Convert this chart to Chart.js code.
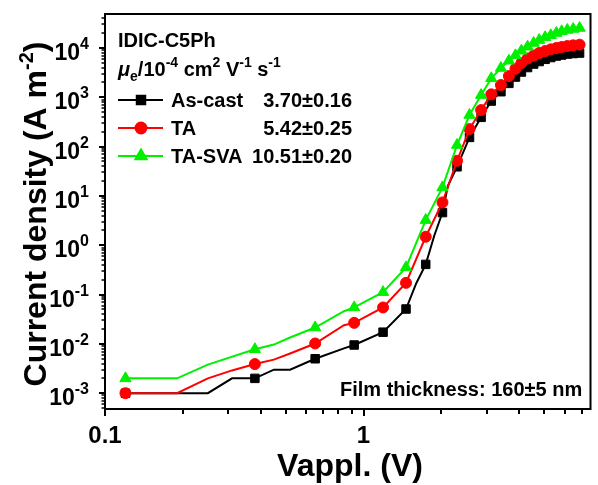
<!DOCTYPE html>
<html>
<head>
<meta charset="utf-8">
<script src="https://cdn.jsdelivr.net/npm/chart.js@4.4.0/dist/chart.umd.min.js"></script>
<style>
html, body { margin: 0; padding: 0; background: #fff; }
#wrap { width: 598px; height: 485px; }
</style>
</head>
<body>
<div id="wrap"><canvas id="jv" width="598" height="485"></canvas></div>
<script>
// voltages (V) where the markers sit, same for the three films
var markV = [0.12, 0.38, 0.65, 0.92, 1.19, 1.46, 1.74, 2.02, 2.30, 2.57, 2.85, 3.12, 3.40,
             3.65, 3.87, 4.08, 4.31, 4.55, 4.78, 5.04, 5.30, 5.57, 5.84, 6.14, 6.47, 6.85];
// current density (A m^-2) at the markers
var asCastJ = [0.001, 0.002, 0.005, 0.0095, 0.0173, 0.051, 0.41, 4.6, 39, 154, 393, 841, 1300,
               1920, 2580, 3260, 4020, 4730, 5320, 5900, 6410, 6880, 7210, 7560, 7730, 7900];
var taJ = [0.001, 0.0039, 0.0102, 0.0267, 0.0548, 0.173, 1.49, 7.4, 51.7, 227, 552, 1150, 1776,
           2700, 3800, 4960, 6120, 7050, 7930, 8690, 9420, 10000, 10480, 10970, 11350, 11700];
var svaJ = [0.002, 0.0078, 0.0215, 0.055, 0.112, 0.356, 3.24, 14.9, 108, 438, 1110, 2430, 3930,
            5520, 7110, 8810, 10620, 12620, 14500, 16480, 18100, 20150, 21800, 23200, 24300, 25500];
// line-only points between markers (kinks of the measured curve)
var asCastExtraV = [0.25, 0.31, 0.45, 0.52, 0.84, 1.60, 1.88, 2.12];
var asCastExtraJ = [0.001, 0.002, 0.003, 0.003, 0.0081, 0.17, 1.6, 16];
var taExtraV = [0.19, 0.25, 0.31, 0.45, 0.52, 0.84];
var taExtraJ = [0.001, 0.002, 0.0029, 0.0048, 0.0064, 0.024];
var svaExtraV = [0.19, 0.25, 0.45, 0.52, 0.84];
var svaExtraJ = [0.002, 0.0038, 0.0097, 0.0135, 0.046];

var seriesNames = ['As-cast', 'TA', 'TA-SVA'];
var mobility = ['3.70\u00b10.16', '5.42\u00b10.25', '10.51\u00b10.20'];
var xTickLabels = ['0.1', '1'];
var xTickValues = [0.1, 1];
var yTickExp = ['-3', '-2', '-1', '0', '1', '2', '3', '4'];

var FONT = '"Liberation Sans", Arial, sans-serif';
function font(size, italic) {
    return (italic ? 'italic ' : '') + 'bold ' + size + 'px ' + FONT;
}
function partsWidth(ctx, parts) {
    var w = 0;
    parts.forEach(function (p) { ctx.font = font(p.size, p.italic); w += ctx.measureText(p.t).width; });
    return w;
}
function drawParts(ctx, x, y, parts) {
    parts.forEach(function (p) {
        ctx.font = font(p.size, p.italic);
        ctx.fillText(p.t, x, y + (p.dy || 0));
        x += ctx.measureText(p.t).width;
    });
    return x;
}

function points(v, j) {
    return v.map(function (x, i) { return { x: x, y: j[i] }; });
}
function linePoints(v, j, ev, ej) {
    return points(v, j).concat(points(ev, ej)).sort(function (a, b) { return a.x - b.x; });
}

var colors = ['#000000', '#ff0000', '#00f000'];
var styles = ['rect', 'circle', 'triangle'];
var radii = [6, 5.5, 6.5];
var lines = [
    linePoints(markV, asCastJ, asCastExtraV, asCastExtraJ),
    linePoints(markV, taJ, taExtraV, taExtraJ),
    linePoints(markV, svaJ, svaExtraV, svaExtraJ)
];
var marks = [points(markV, asCastJ), points(markV, taJ), points(markV, svaJ)];

var datasets = [];
for (var i = 0; i < 3; i++) {
    datasets.push({
        label: seriesNames[i], data: lines[i], showLine: true, pointRadius: 0,
        borderColor: colors[i], borderWidth: 2, tension: 0, order: 10 - 2 * i
    });
    datasets.push({
        label: seriesNames[i] + ' markers', data: marks[i], showLine: false,
        pointStyle: styles[i], pointRadius: radii[i], pointHoverRadius: radii[i],
        backgroundColor: colors[i], borderColor: colors[i], borderWidth: 1, order: 9 - 2 * i
    });
}

var decor = {
    id: 'decor',
    afterDatasetsDraw: function (chart) {
        var ctx = chart.ctx, a = chart.chartArea;
        var xs = chart.scales.x, ys = chart.scales.y;
        ctx.save();
        ctx.fillStyle = '#000';
        ctx.strokeStyle = '#000';
        ctx.lineWidth = 2;
        ctx.strokeRect(a.left, a.top, a.right - a.left, a.bottom - a.top);

        // y ticks
        for (var e = -4; e <= 4; e++) {
            for (var m = 1; m <= 9; m++) {
                var v = m * Math.pow(10, e);
                if (v < ys.min || v > ys.max) continue;
                var py = Math.round(ys.getPixelForValue(v));
                ctx.lineWidth = m === 1 ? 2 : 1.5;
                ctx.beginPath();
                ctx.moveTo(a.left - (m === 1 ? 6 : 3.5), py);
                ctx.lineTo(a.left, py);
                ctx.stroke();
            }
        }
        // x ticks
        for (var e2 = -1; e2 <= 0; e2++) {
            for (var m2 = 1; m2 <= 9; m2++) {
                var vx = m2 * Math.pow(10, e2);
                if (vx < xs.min || vx > xs.max) continue;
                var px = Math.round(xs.getPixelForValue(vx));
                ctx.lineWidth = 2;
                ctx.beginPath();
                ctx.moveTo(px, a.bottom);
                ctx.lineTo(px, a.bottom + (m2 === 1 ? 7 : 5));
                ctx.stroke();
            }
        }

        // y tick labels 10^n
        ctx.textAlign = 'left';
        ctx.textBaseline = 'alphabetic';
        yTickExp.forEach(function (ex) {
            var py = ys.getPixelForValue(Math.pow(10, Number(ex)));
            var parts = [{ t: '10', size: 23 }, { t: ex, size: 16, dy: -11 }];
            var w = partsWidth(ctx, parts);
            drawParts(ctx, 89 - w, py + 12, parts);
        });
        // x tick labels
        ctx.textAlign = 'center';
        ctx.font = font(24);
        xTickLabels.forEach(function (t, k) {
            ctx.fillText(t, xs.getPixelForValue(xTickValues[k]), 443);
        });

        // axis titles
        ctx.font = font(32);
        ctx.fillText('Vappl. (V)', 350, 476);
        ctx.save();
        ctx.translate(46, 214);
        ctx.rotate(-Math.PI / 2);
        ctx.textAlign = 'left';
        var yt = [{ t: 'Current density (A m', size: 32 }, { t: '-2', size: 20, dy: -13 }, { t: ')', size: 32 }];
        drawParts(ctx, -partsWidth(ctx, yt) / 2, 0, yt);
        ctx.restore();

        // legend block
        ctx.textAlign = 'left';
        ctx.font = font(20);
        ctx.fillText('IDIC-C5Ph', 118, 47);
        drawParts(ctx, 118, 76, [
            { t: '\u03bc', size: 20, italic: true }, { t: 'e', size: 14, dy: 5 },
            { t: '/10', size: 20 }, { t: '-4', size: 14, dy: -9 },
            { t: ' cm', size: 20 }, { t: '2', size: 14, dy: -9 },
            { t: ' V', size: 20 }, { t: '-1', size: 14, dy: -9 },
            { t: ' s', size: 20 }, { t: '-1', size: 14, dy: -9 }
        ]);
        var rowY = [100, 128, 156];
        for (var r = 0; r < 3; r++) {
            ctx.strokeStyle = colors[r];
            ctx.fillStyle = colors[r];
            ctx.lineWidth = 2;
            ctx.beginPath();
            ctx.moveTo(118, rowY[r]);
            ctx.lineTo(163, rowY[r]);
            ctx.stroke();
            Chart.helpers.drawPoint(ctx, { pointStyle: styles[r], radius: radii[r], borderWidth: 1 }, 141, rowY[r]);
            ctx.fill();
            ctx.fillStyle = '#000';
            ctx.font = font(20);
            ctx.fillText(seriesNames[r], 171, rowY[r] + 7);
            ctx.textAlign = 'right';
            ctx.fillText(mobility[r], 352, rowY[r] + 7);
            ctx.textAlign = 'left';
        }

        ctx.font = font(20);
        ctx.fillText('Film thickness: 160\u00b15 nm', 340, 396);
        ctx.restore();
    }
};

new Chart(document.getElementById('jv').getContext('2d'), {
    type: 'scatter',
    data: { datasets: datasets },
    options: {
        responsive: false,
        animation: false,
        layout: { padding: { top: 14, right: 1, left: 0, bottom: 0 } },
        plugins: { legend: { display: false }, tooltip: { enabled: false } },
        scales: {
            x: {
                type: 'logarithmic', min: 0.1, max: 7.55, bounds: 'data',
                ticks: { display: false }, grid: { display: false }, border: { display: false },
                afterFit: function (s) { s.height = 76; }
            },
            y: {
                type: 'logarithmic', min: Math.pow(10, -3.32), max: Math.pow(10, 4.69), bounds: 'data',
                ticks: { display: false }, grid: { display: false }, border: { display: false },
                afterFit: function (s) { s.width = 105; }
            }
        }
    },
    plugins: [decor]
});
</script>
</body>
</html>
